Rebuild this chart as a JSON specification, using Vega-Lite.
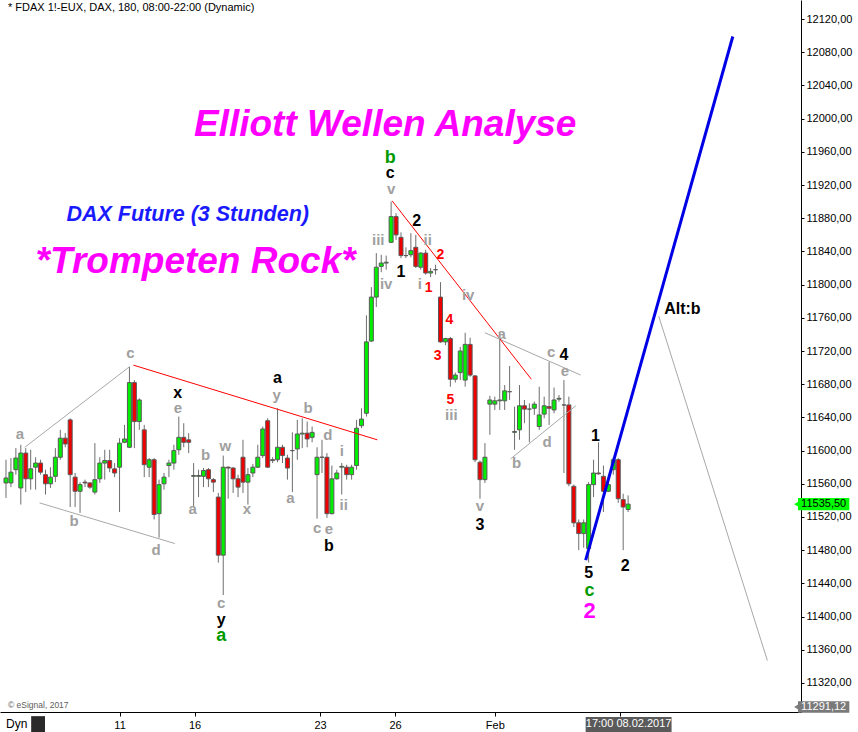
{
  "$schema": "https://vega.github.io/schema/vega-lite/v6.json",
  "width": 801,
  "height": 712,
  "autosize": "none",
  "padding": {"left": 0, "top": 0, "right": 57, "bottom": 20},
  "background": "white",
  "config": {
    "view": {"stroke": null},
    "font": "Liberation Sans",
    "axis": {"labelOverlap": false, "labelSeparation": 0, "title": null, "grid": false}
  },
  "datasets": {
    "bars": [
      {"i":0,"o":11561,"h":11589,"l":11543,"c":11567},
      {"i":1,"o":11561,"h":11591,"l":11556,"c":11574},
      {"i":2,"o":11577,"h":11603,"l":11571,"c":11591},
      {"i":3,"o":11555,"h":11607,"l":11535,"c":11597},
      {"i":4,"o":11597,"h":11603,"l":11550,"c":11566},
      {"i":5,"o":11566,"h":11601,"l":11553,"c":11578},
      {"i":6,"o":11580,"h":11592,"l":11553,"c":11585},
      {"i":7,"o":11585,"h":11589,"l":11571,"c":11574},
      {"i":8,"o":11571,"h":11577,"l":11547,"c":11560},
      {"i":9,"o":11560,"h":11580,"l":11555,"c":11568},
      {"i":10,"o":11569,"h":11603,"l":11562,"c":11592},
      {"i":11,"o":11592,"h":11625,"l":11589,"c":11615},
      {"i":12,"o":11615,"h":11621,"l":11604,"c":11608},
      {"i":13,"o":11637,"h":11639,"l":11532,"c":11571},
      {"i":14,"o":11568,"h":11573,"l":11532,"c":11551},
      {"i":15,"o":11551,"h":11562,"l":11525,"c":11559},
      {"i":16,"o":11562,"h":11565,"l":11556,"c":11561},
      {"i":17,"o":11561,"h":11562,"l":11554,"c":11556},
      {"i":18,"o":11550,"h":11609,"l":11547,"c":11565},
      {"i":19,"o":11566,"h":11592,"l":11561,"c":11585},
      {"i":20,"o":11585,"h":11601,"l":11565,"c":11588},
      {"i":21,"o":11588,"h":11601,"l":11574,"c":11579},
      {"i":22,"o":11578,"h":11585,"l":11568,"c":11573},
      {"i":23,"o":11580,"h":11615,"l":11526,"c":11609},
      {"i":24,"o":11610,"h":11631,"l":11609,"c":11614},
      {"i":25,"o":11604,"h":11701,"l":11603,"c":11682},
      {"i":26,"o":11682,"h":11685,"l":11603,"c":11635},
      {"i":27,"o":11635,"h":11663,"l":11625,"c":11661},
      {"i":28,"o":11625,"h":11631,"l":11568,"c":11583},
      {"i":29,"o":11580,"h":11591,"l":11568,"c":11589},
      {"i":30,"o":11589,"h":11591,"l":11517,"c":11523},
      {"i":31,"o":11524,"h":11565,"l":11495,"c":11559},
      {"i":32,"o":11560,"h":11573,"l":11553,"c":11568},
      {"i":33,"o":11582,"h":11589,"l":11568,"c":11585},
      {"i":34,"o":11585,"h":11607,"l":11577,"c":11600},
      {"i":35,"o":11601,"h":11641,"l":11595,"c":11616},
      {"i":36,"o":11616,"h":11633,"l":11604,"c":11610},
      {"i":37,"o":11613,"h":11621,"l":11597,"c":11610},
      {"i":38,"o":11569,"h":11585,"l":11532,"c":11570},
      {"i":39,"o":11569,"h":11577,"l":11544,"c":11570},
      {"i":40,"o":11569,"h":11579,"l":11556,"c":11576},
      {"i":41,"o":11577,"h":11579,"l":11556,"c":11566},
      {"i":42,"o":11565,"h":11567,"l":11550,"c":11562},
      {"i":43,"o":11544,"h":11549,"l":11465,"c":11474},
      {"i":44,"o":11474,"h":11594,"l":11426,"c":11580},
      {"i":45,"o":11580,"h":11581,"l":11542,"c":11579},
      {"i":46,"o":11579,"h":11580,"l":11549,"c":11566},
      {"i":47,"o":11566,"h":11571,"l":11544,"c":11556},
      {"i":48,"o":11592,"h":11613,"l":11549,"c":11562},
      {"i":49,"o":11562,"h":11579,"l":11535,"c":11571},
      {"i":50,"o":11573,"h":11584,"l":11568,"c":11580},
      {"i":51,"o":11580,"h":11607,"l":11579,"c":11592},
      {"i":52,"o":11594,"h":11629,"l":11591,"c":11626},
      {"i":53,"o":11636,"h":11639,"l":11579,"c":11580},
      {"i":54,"o":11589,"h":11592,"l":11585,"c":11588},
      {"i":55,"o":11589,"h":11651,"l":11586,"c":11604},
      {"i":56,"o":11604,"h":11607,"l":11585,"c":11594},
      {"i":57,"o":11591,"h":11595,"l":11565,"c":11579},
      {"i":58,"o":11600,"h":11622,"l":11550,"c":11600},
      {"i":59,"o":11602,"h":11637,"l":11589,"c":11620},
      {"i":60,"o":11620,"h":11639,"l":11603,"c":11621},
      {"i":61,"o":11621,"h":11635,"l":11604,"c":11614},
      {"i":62,"o":11616,"h":11629,"l":11610,"c":11622},
      {"i":63,"o":11571,"h":11604,"l":11518,"c":11592},
      {"i":64,"o":11592,"h":11613,"l":11573,"c":11592},
      {"i":65,"o":11592,"h":11597,"l":11519,"c":11524},
      {"i":66,"o":11524,"h":11582,"l":11523,"c":11566},
      {"i":67,"o":11566,"h":11577,"l":11565,"c":11573},
      {"i":68,"o":11580,"h":11585,"l":11547,"c":11581},
      {"i":69,"o":11580,"h":11583,"l":11565,"c":11571},
      {"i":70,"o":11571,"h":11583,"l":11565,"c":11580},
      {"i":71,"o":11582,"h":11637,"l":11577,"c":11627},
      {"i":72,"o":11630,"h":11651,"l":11627,"c":11638},
      {"i":73,"o":11645,"h":11763,"l":11641,"c":11731},
      {"i":74,"o":11732,"h":11797,"l":11731,"c":11785},
      {"i":75,"o":11785,"h":11838,"l":11773,"c":11821},
      {"i":76,"o":11822,"h":11836,"l":11815,"c":11826},
      {"i":77,"o":11826,"h":11835,"l":11818,"c":11827},
      {"i":78,"o":11851,"h":11900,"l":11850,"c":11882},
      {"i":79,"o":11882,"h":11886,"l":11854,"c":11860},
      {"i":80,"o":11857,"h":11863,"l":11832,"c":11835},
      {"i":81,"o":11835,"h":11845,"l":11832,"c":11835},
      {"i":82,"o":11836,"h":11862,"l":11833,"c":11841},
      {"i":83,"o":11845,"h":11860,"l":11820,"c":11822},
      {"i":84,"o":11821,"h":11839,"l":11818,"c":11838},
      {"i":85,"o":11838,"h":11842,"l":11812,"c":11814},
      {"i":86,"o":11814,"h":11820,"l":11809,"c":11816},
      {"i":87,"o":11818,"h":11824,"l":11812,"c":11818},
      {"i":88,"o":11785,"h":11803,"l":11730,"c":11731},
      {"i":89,"o":11731,"h":11736,"l":11727,"c":11735},
      {"i":90,"o":11735,"h":11737,"l":11677,"c":11686},
      {"i":91,"o":11686,"h":11694,"l":11682,"c":11691},
      {"i":92,"o":11694,"h":11725,"l":11685,"c":11720},
      {"i":93,"o":11685,"h":11742,"l":11677,"c":11728},
      {"i":94,"o":11728,"h":11736,"l":11689,"c":11691},
      {"i":95,"o":11690,"h":11691,"l":11586,"c":11589},
      {"i":96,"o":11586,"h":11588,"l":11542,"c":11565},
      {"i":97,"o":11565,"h":11609,"l":11561,"c":11592},
      {"i":98,"o":11656,"h":11666,"l":11619,"c":11661},
      {"i":99,"o":11656,"h":11665,"l":11649,"c":11660},
      {"i":100,"o":11660,"h":11742,"l":11649,"c":11661},
      {"i":101,"o":11660,"h":11679,"l":11649,"c":11672},
      {"i":102,"o":11671,"h":11702,"l":11661,"c":11671},
      {"i":103,"o":11622,"h":11653,"l":11601,"c":11623},
      {"i":104,"o":11625,"h":11679,"l":11613,"c":11654},
      {"i":105,"o":11654,"h":11661,"l":11633,"c":11650},
      {"i":106,"o":11650,"h":11657,"l":11610,"c":11650},
      {"i":107,"o":11651,"h":11659,"l":11643,"c":11656},
      {"i":108,"o":11629,"h":11677,"l":11625,"c":11643},
      {"i":109,"o":11644,"h":11665,"l":11639,"c":11654},
      {"i":110,"o":11653,"h":11707,"l":11631,"c":11651},
      {"i":111,"o":11649,"h":11676,"l":11645,"c":11661},
      {"i":112,"o":11662,"h":11667,"l":11659,"c":11663},
      {"i":113,"o":11655,"h":11685,"l":11573,"c":11655},
      {"i":114,"o":11655,"h":11665,"l":11557,"c":11560},
      {"i":115,"o":11557,"h":11559,"l":11508,"c":11513},
      {"i":116,"o":11513,"h":11517,"l":11480,"c":11500},
      {"i":117,"o":11500,"h":11517,"l":11483,"c":11513},
      {"i":118,"o":11482,"h":11562,"l":11465,"c":11559},
      {"i":119,"o":11559,"h":11589,"l":11544,"c":11573},
      {"i":120,"o":11573,"h":11610,"l":11571,"c":11572},
      {"i":121,"o":11569,"h":11582,"l":11526,"c":11551},
      {"i":122,"o":11551,"h":11562,"l":11550,"c":11559},
      {"i":123,"o":11577,"h":11592,"l":11571,"c":11589},
      {"i":124,"o":11589,"h":11591,"l":11537,"c":11542},
      {"i":125,"o":11541,"h":11548,"l":11480,"c":11532},
      {"i":126,"o":11529,"h":11546,"l":11526,"c":11535.5}
    ],
    "greyLines": [
      {"i1":3.8,"p1":11604,"i2":25,"p2":11701},
      {"i1":6.8,"p1":11537,"i2":34.2,"p2":11488},
      {"i1":97,"p1":11742,"i2":116.4,"p2":11691},
      {"i1":102.2,"p1":11590,"i2":115.4,"p2":11654},
      {"i1":132.2,"p1":11762,"i2":154.2,"p2":11347}
    ],
    "redLines": [
      {"i1":25.8,"p1":11703,"i2":75.2,"p2":11613},
      {"i1":78.2,"p1":11901,"i2":106.4,"p2":11686}
    ],
    "blueLine": [
      {"i1":117.4,"p1":11468,"i2":147.2,"p2":12099}
    ],
    "greyWaves": [
      {"i":2.8,"p":11620,"t":"a"},
      {"i":13.8,"p":11515,"t":"b"},
      {"i":25.2,"p":11718,"t":"c"},
      {"i":30.4,"p":11480,"t":"d"},
      {"i":34.8,"p":11651,"t":"e"},
      {"i":37.8,"p":11530,"t":"a"},
      {"i":40.4,"p":11595,"t":"b"},
      {"i":44.4,"p":11606,"t":"w"},
      {"i":48.8,"p":11530,"t":"x"},
      {"i":54.8,"p":11667,"t":"y"},
      {"i":57.6,"p":11543,"t":"a"},
      {"i":61.2,"p":11651,"t":"b"},
      {"i":65.2,"p":11619,"t":"d"},
      {"i":68,"p":11600,"t":"i"},
      {"i":63,"p":11507,"t":"c"},
      {"i":65.4,"p":11506,"t":"e"},
      {"i":68.4,"p":11534,"t":"ii"},
      {"i":43.6,"p":11416,"t":"c"},
      {"i":75.4,"p":11854,"t":"iii"},
      {"i":77,"p":11801,"t":"iv"},
      {"i":78,"p":11915,"t":"v"},
      {"i":85.4,"p":11854,"t":"ii"},
      {"i":83.8,"p":11801,"t":"i"},
      {"i":93.6,"p":11787,"t":"iv"},
      {"i":90.2,"p":11643,"t":"iii"},
      {"i":96,"p":11533,"t":"v"},
      {"i":100.4,"p":11740,"t":"a"},
      {"i":103.4,"p":11585,"t":"b"},
      {"i":110.4,"p":11719,"t":"c"},
      {"i":109.6,"p":11610,"t":"d"},
      {"i":113.2,"p":11696,"t":"e"}
    ],
    "blackWaves": [
      {"i":34.8,"p":11670,"t":"x"},
      {"i":55,"p":11688,"t":"a"},
      {"i":65.4,"p":11485,"t":"b"},
      {"i":77.8,"p":11934,"t":"c"},
      {"i":43.6,"p":11396,"t":"y"},
      {"i":83.2,"p":11877,"t":"2"},
      {"i":80,"p":11815,"t":"1"},
      {"i":96,"p":11510,"t":"3"},
      {"i":113,"p":11715,"t":"4"},
      {"i":119.4,"p":11618,"t":"1"},
      {"i":118,"p":11452,"t":"5"},
      {"i":125.4,"p":11461,"t":"2"},
      {"i":137,"p":11771,"t":"Alt:b"}
    ],
    "greenWaves": [
      {"i":77.8,"p":11953,"t":"b"},
      {"i":43.6,"p":11376,"t":"a"},
      {"i":118.2,"p":11431,"t":"c"}
    ],
    "redWaves": [
      {"i":88,"p":11836,"t":"2"},
      {"i":85.6,"p":11796,"t":"1"},
      {"i":89.8,"p":11757,"t":"4"},
      {"i":87.4,"p":11714,"t":"3"},
      {"i":90,"p":11661,"t":"5"}
    ],
    "pinkWaves": [
      {"i":118.2,"p":11407,"t":"2"}
    ],
    "headings": [
      {"i":76.8,"p":11992,"t":"Elliott Wellen Analyse"},
      {"i":38.4,"p":11827,"t":"*Trompeten Rock*"}
    ],
    "subheading": [
      {"i":36.8,"p":11884,"t":"DAX Future (3 Stunden)"}
    ],
    "symbolLine": [
      {"i":0.4,"p":12133,"t":"* FDAX 1!-EUX, DAX, 180, 08:00-22:00 (Dynamic)"}
    ],
    "copyright": [
      {"i":0.4,"p":11293,"t":"© eSignal, 2017"}
    ],
    "lastPrice": [
      {"i1":160.4,"i2":170.8,"p1":11528,"p2":11543,"i":165.6,"p":11535.5,"t":"11535,50"}
    ],
    "lowPrice": [
      {"i1":160.4,"i2":170.8,"p1":11284,"p2":11298,"i":165.6,"p":11291.12,"t":"11291,12"}
    ],
    "cursorDate": [
      {"i1":117.4,"i2":134.8,"p1":11259,"p2":11279,"i":126.1,"p":11270,"t":"17:00 08.02.2017"}
    ],
    "dynTag": [
      {"i":0,"p":11270,"t":"Dyn","i1":5.1,"i2":7.9,"p1":11260,"p2":11280}
    ]
  },
  "layer": [
    {
      "data": {"name": "bars"},
      "mark": {"type": "rule", "color": "#6e6e6e", "strokeWidth": 1},
      "encoding": {
        "x": {
          "field": "i", "type": "quantitative",
          "scale": {"domain": [-0.2, 160], "nice": false, "zero": false},
          "axis": {
            "title": null, "orient": "bottom", "grid": false,
            "values": [23, 38.2, 63.6, 78.8, 99, 124.4],
            "tickCount": 40,
            "labelExpr": "datum.value == 23 ? '11' : datum.value == 38.2 ? '16' : datum.value == 63.6 ? '23' : datum.value == 78.8 ? '26' : datum.value == 99 ? 'Feb' : ''",
            "domainColor": "#000000", "domainWidth": 1,
            "tickColor": "#000000", "tickSize": 4,
            "labelFont": "Liberation Sans", "labelFontSize": 11, "labelColor": "#000000",
            "labelPadding": 3, "labelFlush": false, "labelOverlap": false
          }
        },
        "y": {
          "field": "l", "type": "quantitative",
          "scale": {"domain": [11285, 12143], "nice": false, "zero": false},
          "axis": {
            "title": null, "orient": "right", "grid": false,
            "values": [11320, 11360, 11400, 11440, 11480, 11520, 11560, 11600, 11640, 11680, 11720, 11760, 11800, 11840, 11880, 11920, 11960, 12000, 12040, 12080, 12120],
            "tickCount": 40,
            "labelExpr": "replace(format(datum.value, '.2f'), '.', ',')",
            "domainColor": "#000000", "domainWidth": 1,
            "tickColor": "#000000", "tickSize": 3,
            "labelFont": "Liberation Sans", "labelFontSize": 11, "labelColor": "#000000",
            "labelPadding": 2, "labelOverlap": false, "labelBound": false, "labelSeparation": 0
          }
        },
        "y2": {"field": "h"}
      }
    },
    {
      "data": {"name": "bars"},
      "mark": {"type": "bar", "size": 4, "stroke": "#5a5a5a", "strokeWidth": 1},
      "encoding": {
        "x": {"field": "i", "type": "quantitative"},
        "y": {"field": "o", "type": "quantitative", "axis": {"orient": "right"}},
        "y2": {"field": "c"},
        "color": {"condition": {"test": "datum.c >= datum.o", "value": "#00ee00"}, "value": "#ee0000"}
      }
    },
    {
      "data": {"name": "greyLines"},
      "mark": {"type": "rule", "color": "#a8a8a8", "strokeWidth": 1},
      "encoding": {
        "x": {"field": "i1", "type": "quantitative"},
        "y": {"field": "p1", "type": "quantitative", "axis": {"orient": "right"}},
        "x2": {"field": "i2"},
        "y2": {"field": "p2"}
      }
    },
    {
      "data": {"name": "redLines"},
      "mark": {"type": "rule", "color": "#ff0000", "strokeWidth": 1},
      "encoding": {
        "x": {"field": "i1", "type": "quantitative"},
        "y": {"field": "p1", "type": "quantitative", "axis": {"orient": "right"}},
        "x2": {"field": "i2"},
        "y2": {"field": "p2"}
      }
    },
    {
      "data": {"name": "blueLine"},
      "mark": {"type": "rule", "color": "#0000e6", "strokeWidth": 3},
      "encoding": {
        "x": {"field": "i1", "type": "quantitative"},
        "y": {"field": "p1", "type": "quantitative", "axis": {"orient": "right"}},
        "x2": {"field": "i2"},
        "y2": {"field": "p2"}
      }
    },
    {
      "data": {"name": "greyWaves"},
      "mark": {"type": "text", "font": "Liberation Sans", "fontWeight": "bold", "fontSize": 15, "color": "#a0a0a0", "align": "center", "baseline": "middle"},
      "encoding": {
        "x": {"field": "i", "type": "quantitative"},
        "y": {"field": "p", "type": "quantitative", "axis": {"orient": "right"}},
        "text": {"field": "t"}
      }
    },
    {
      "data": {"name": "blackWaves"},
      "mark": {"type": "text", "font": "Liberation Sans", "fontWeight": "bold", "fontSize": 16, "color": "#000000", "align": "center", "baseline": "middle"},
      "encoding": {
        "x": {"field": "i", "type": "quantitative"},
        "y": {"field": "p", "type": "quantitative", "axis": {"orient": "right"}},
        "text": {"field": "t"}
      }
    },
    {
      "data": {"name": "greenWaves"},
      "mark": {"type": "text", "font": "Liberation Sans", "fontWeight": "bold", "fontSize": 18, "color": "#009a00", "align": "center", "baseline": "middle"},
      "encoding": {
        "x": {"field": "i", "type": "quantitative"},
        "y": {"field": "p", "type": "quantitative", "axis": {"orient": "right"}},
        "text": {"field": "t"}
      }
    },
    {
      "data": {"name": "redWaves"},
      "mark": {"type": "text", "font": "Liberation Sans", "fontWeight": "bold", "fontSize": 14, "color": "#ff0000", "align": "center", "baseline": "middle"},
      "encoding": {
        "x": {"field": "i", "type": "quantitative"},
        "y": {"field": "p", "type": "quantitative", "axis": {"orient": "right"}},
        "text": {"field": "t"}
      }
    },
    {
      "data": {"name": "pinkWaves"},
      "mark": {"type": "text", "font": "Liberation Sans", "fontWeight": "bold", "fontSize": 22, "color": "#ff00ff", "align": "center", "baseline": "middle"},
      "encoding": {
        "x": {"field": "i", "type": "quantitative"},
        "y": {"field": "p", "type": "quantitative", "axis": {"orient": "right"}},
        "text": {"field": "t"}
      }
    },
    {
      "data": {"name": "headings"},
      "mark": {"type": "text", "font": "Liberation Sans", "fontWeight": "bold", "fontStyle": "italic", "fontSize": 37, "color": "#ff00ff", "align": "center", "baseline": "middle"},
      "encoding": {
        "x": {"field": "i", "type": "quantitative"},
        "y": {"field": "p", "type": "quantitative", "axis": {"orient": "right"}},
        "text": {"field": "t"}
      }
    },
    {
      "data": {"name": "subheading"},
      "mark": {"type": "text", "font": "Liberation Sans", "fontWeight": "bold", "fontStyle": "italic", "fontSize": 21.5, "color": "#1a1aff", "align": "center", "baseline": "middle"},
      "encoding": {
        "x": {"field": "i", "type": "quantitative"},
        "y": {"field": "p", "type": "quantitative", "axis": {"orient": "right"}},
        "text": {"field": "t"}
      }
    },
    {
      "data": {"name": "symbolLine"},
      "mark": {"type": "text", "font": "Liberation Sans", "fontSize": 11, "color": "#000000", "align": "left", "baseline": "middle"},
      "encoding": {
        "x": {"field": "i", "type": "quantitative"},
        "y": {"field": "p", "type": "quantitative", "axis": {"orient": "right"}},
        "text": {"field": "t"}
      }
    },
    {
      "data": {"name": "copyright"},
      "mark": {"type": "text", "font": "Liberation Sans", "fontSize": 8.5, "color": "#606060", "align": "left", "baseline": "middle"},
      "encoding": {
        "x": {"field": "i", "type": "quantitative"},
        "y": {"field": "p", "type": "quantitative", "axis": {"orient": "right"}},
        "text": {"field": "t"}
      }
    },
    {
      "data": {"name": "lastPrice"},
      "mark": {"type": "rect", "color": "#00ff00"},
      "encoding": {
        "x": {"field": "i1", "type": "quantitative"},
        "x2": {"field": "i2"},
        "y": {"field": "p1", "type": "quantitative", "axis": {"orient": "right"}},
        "y2": {"field": "p2"}
      }
    },
    {
      "data": {"name": "lastPrice"},
      "mark": {"type": "point", "shape": "triangle-left", "filled": true, "size": 45, "color": "#00ff00", "opacity": 1, "xOffset": -1},
      "encoding": {
        "x": {"field": "i1", "type": "quantitative"},
        "y": {"field": "p", "type": "quantitative", "axis": {"orient": "right"}}
      }
    },
    {
      "data": {"name": "lastPrice"},
      "mark": {"type": "text", "font": "Liberation Sans", "fontSize": 11, "color": "#000000", "align": "center", "baseline": "middle"},
      "encoding": {
        "x": {"field": "i", "type": "quantitative"},
        "y": {"field": "p", "type": "quantitative", "axis": {"orient": "right"}},
        "text": {"field": "t"}
      }
    },
    {
      "data": {"name": "lowPrice"},
      "mark": {"type": "rect", "color": "#7a7a7a"},
      "encoding": {
        "x": {"field": "i1", "type": "quantitative"},
        "x2": {"field": "i2"},
        "y": {"field": "p1", "type": "quantitative", "axis": {"orient": "right"}},
        "y2": {"field": "p2"}
      }
    },
    {
      "data": {"name": "lowPrice"},
      "mark": {"type": "point", "shape": "triangle-left", "filled": true, "size": 45, "color": "#7a7a7a", "opacity": 1, "xOffset": -1},
      "encoding": {
        "x": {"field": "i1", "type": "quantitative"},
        "y": {"field": "p", "type": "quantitative", "axis": {"orient": "right"}}
      }
    },
    {
      "data": {"name": "lowPrice"},
      "mark": {"type": "text", "font": "Liberation Sans", "fontSize": 11, "color": "#ffffff", "align": "center", "baseline": "middle"},
      "encoding": {
        "x": {"field": "i", "type": "quantitative"},
        "y": {"field": "p", "type": "quantitative", "axis": {"orient": "right"}},
        "text": {"field": "t"}
      }
    },
    {
      "data": {"name": "cursorDate"},
      "mark": {"type": "rect", "color": "#5a5a5a"},
      "encoding": {
        "x": {"field": "i1", "type": "quantitative"},
        "x2": {"field": "i2"},
        "y": {"field": "p1", "type": "quantitative", "axis": {"orient": "right"}},
        "y2": {"field": "p2"}
      }
    },
    {
      "data": {"name": "cursorDate"},
      "mark": {"type": "text", "font": "Liberation Sans", "fontSize": 11, "color": "#ffffff", "align": "center", "baseline": "middle"},
      "encoding": {
        "x": {"field": "i", "type": "quantitative"},
        "y": {"field": "p", "type": "quantitative", "axis": {"orient": "right"}},
        "text": {"field": "t"}
      }
    },
    {
      "data": {"name": "dynTag"},
      "mark": {"type": "text", "font": "Liberation Sans", "fontSize": 12, "color": "#000000", "align": "left", "baseline": "middle"},
      "encoding": {
        "x": {"field": "i", "type": "quantitative"},
        "y": {"field": "p", "type": "quantitative", "axis": {"orient": "right"}},
        "text": {"field": "t"}
      }
    },
    {
      "data": {"name": "dynTag"},
      "mark": {"type": "rect", "color": "#2a2a2a"},
      "encoding": {
        "x": {"field": "i1", "type": "quantitative"},
        "x2": {"field": "i2"},
        "y": {"field": "p1", "type": "quantitative", "axis": {"orient": "right"}},
        "y2": {"field": "p2"}
      }
    }
  ]
}
